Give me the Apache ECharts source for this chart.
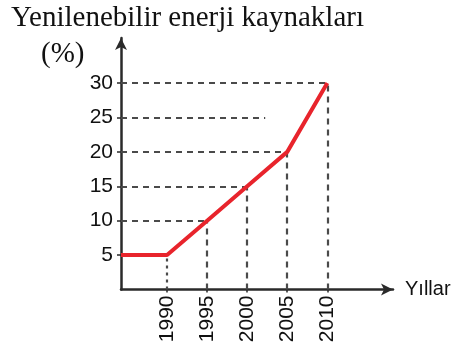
<!DOCTYPE html>
<html>
<head>
<meta charset="utf-8">
<script src="https://cdn.jsdelivr.net/npm/echarts@6/dist/echarts.min.js"></script>
<style>
  html, body { margin: 0; padding: 0; background: #fff; }
  #chart { width: 460px; height: 352px; }
</style>
</head>
<body>
<div id="chart"></div>
<script>
// Share of renewable energy sources (%) by year
const years = [1990, 1995, 2000, 2005, 2010];
const shares = [5, 10, 15, 20, 30];
const startShare = 5;            // flat level before 1990
const yTicks = [5, 10, 15, 20, 25, 30];
const extraGuideValue = 25;      // dashed level line not tied to a point
const extraGuideUntil = 2002.25;

const xMin = 1984.25, xMax = 2018.2;
const yMin = 0, yMax = 36.55;

const lineData = [[xMin, startShare]].concat(years.map((y, i) => [y, shares[i]]));

const guideStyle = { color: '#4a4a4a', width: 2.2, type: [6, 5] };
const dottedStyle = { color: '#4a4a4a', width: 2.2, type: [3, 4] };

const guides = [];
years.forEach((y, i) => {
  const v = shares[i];
  if (y !== years[0]) {
    guides.push([{ coord: [xMin, v] }, { coord: [y, v] }]);
  }
  guides.push([{ coord: [y, 0], lineStyle: i === 0 ? dottedStyle : guideStyle }, { coord: [y, v] }]);
});
guides.push([{ coord: [xMin, extraGuideValue] }, { coord: [extraGuideUntil, extraGuideValue] }]);

const axisColor = '#2a2a2a';
const labelColor = '#111';
const sans = '"Liberation Sans", Arial, sans-serif';
const serif = '"Liberation Serif", "Times New Roman", serif';

const chart = echarts.init(document.getElementById('chart'), null, { renderer: 'canvas' });
chart.setOption({
  animation: false,
  grid: { left: 121, right: 67, top: 38, bottom: 62.5 },
  graphic: [
    { type: 'text', left: 11, top: 4,
      style: { text: 'Yenilenebilir enerji kaynakları', font: '29px ' + serif, fill: labelColor } },
    { type: 'text', left: 41, top: 40,
      style: { text: '(%)', font: '29px ' + serif, fill: labelColor } }
  ],
  xAxis: {
    type: 'value', min: xMin, max: xMax,
    name: 'Yıllar', nameLocation: 'end', nameGap: 12,
    nameTextStyle: { fontFamily: sans, fontSize: 20, color: labelColor, verticalAlign: 'middle' },
    axisLine: { show: true, lineStyle: { color: axisColor, width: 2.5 }, symbol: ['none', 'arrow'], symbolSize: [9, 12] },
    axisTick: { show: true, customValues: years, length: 3, lineStyle: { color: axisColor, width: 1.5 } },
    axisLabel: { customValues: years, rotate: 90, margin: 6, fontFamily: sans, fontSize: 21, color: labelColor,
                 formatter: v => String(v) },
    splitLine: { show: false }
  },
  yAxis: {
    type: 'value', min: yMin, max: yMax,
    axisLine: { show: true, lineStyle: { color: axisColor, width: 2.5 }, symbol: ['none', 'arrow'], symbolSize: [9, 12] },
    axisTick: { show: true, customValues: yTicks, length: 4, lineStyle: { color: axisColor, width: 1.5 } },
    axisLabel: { customValues: yTicks, margin: 8, fontFamily: sans, fontSize: 21, color: labelColor },
    splitLine: { show: false }
  },
  series: [{
    type: 'line',
    data: lineData,
    symbol: 'none',
    lineStyle: { color: '#e8242c', width: 4 },
    z: 5,
    markLine: {
      silent: true, symbol: 'none', label: { show: false },
      lineStyle: guideStyle,
      data: guides,
      z: 1
    }
  }]
});
</script>
</body>
</html>
